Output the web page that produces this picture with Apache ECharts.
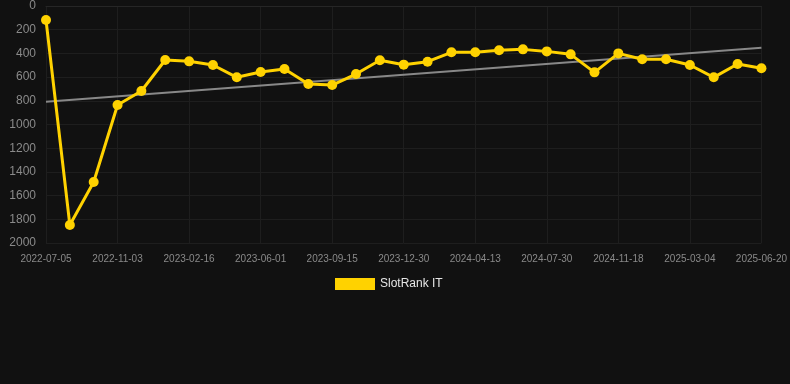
<!DOCTYPE html>
<html>
<head>
<meta charset="utf-8">
<script src="https://cdn.jsdelivr.net/npm/echarts@6/dist/echarts.min.js"></script>
<style>
html,body{margin:0;padding:0;background:#111111;}
#chart{width:790px;height:384px;}
</style>
</head>
<body>
<div id="chart"></div>
<script>
var dates = ['2022-07-05','2022-08-14','2022-09-23','2022-11-03','2022-12-08','2023-01-12','2023-02-16','2023-03-22','2023-04-26','2023-06-01','2023-07-06','2023-08-10','2023-09-15','2023-10-20','2023-11-24','2023-12-30','2024-02-02','2024-03-08','2024-04-13','2024-05-19','2024-06-24','2024-07-30','2024-09-05','2024-10-12','2024-11-18','2024-12-23','2025-01-27','2025-03-04','2025-04-08','2025-05-14','2025-06-20'];
var rankValues = [118,1848,1485,835,717,456,467,498,602,557,532,658,667,574,458,495,470,391,391,374,366,383,408,560,400,450,450,498,602,489,526];
var trendStart = 807;
var trendEnd = 352;
var seriesName = 'SlotRank IT';

var chart = echarts.init(document.getElementById('chart'));
chart.setOption({
  backgroundColor: '#111111',
  animation: false,
  grid: {left: 46, right: 28, top: 6, bottom: 141},
  legend: {
    top: 273, left: 330,
    itemWidth: 40, itemHeight: 12,
    itemGap: 10,
    icon: 'rect',
    textStyle: {color: '#e6e6e6', fontSize: 12, fontFamily: 'Arial, Liberation Sans, sans-serif'},
    data: [seriesName]
  },
  xAxis: {
    type: 'category',
    data: dates,
    boundaryGap: false,
    axisLine: {show: true, lineStyle: {color: '#262626'}},
    axisTick: {show: false},
    axisLabel: {color: '#8a8a8a', fontSize: 10, interval: 2, margin: 11, fontFamily: 'Arial, Liberation Sans, sans-serif'},
    splitLine: {show: true, interval: 2, lineStyle: {color: '#1e1e1e'}}
  },
  yAxis: {
    type: 'value',
    inverse: true,
    min: 0, max: 2000, interval: 200,
    axisLine: {show: false},
    axisTick: {show: false},
    axisLabel: {color: '#8a8a8a', fontSize: 12, margin: 10, fontFamily: 'Arial, Liberation Sans, sans-serif',
      formatter: function (v) { return String(v); }},
    splitLine: {show: true, lineStyle: {color: '#1e1e1e'}}
  },
  series: [
    {
      name: seriesName,
      type: 'line',
      data: rankValues,
      itemStyle: {color: '#FFD200'},
      lineStyle: {color: '#FFD200', width: 3},
      symbol: 'circle',
      symbolSize: 10,
      z: 3
    },
    {
      name: 'trend',
      type: 'line',
      data: [[0, trendStart], [dates.length - 1, trendEnd]],
      symbol: 'none',
      lineStyle: {color: '#888888', width: 2},
      z: 2
    }
  ]
});
</script>
</body>
</html>
